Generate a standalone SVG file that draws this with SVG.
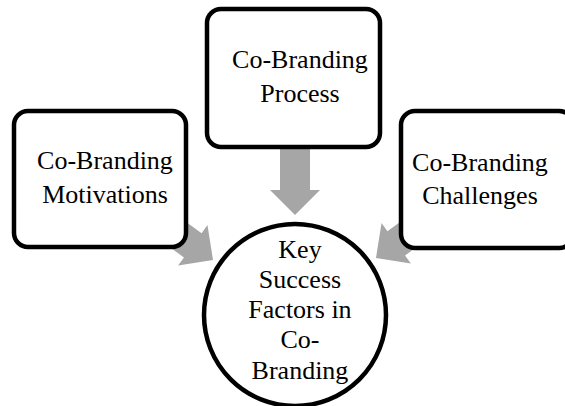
<svg xmlns="http://www.w3.org/2000/svg" width="565" height="406" viewBox="0 0 565 406">
<defs>
<style>
.box{fill:#fff;stroke:#000;stroke-width:4.5}
.arrow{fill:#a6a6a6}
text{font-family:"Liberation Serif","Times New Roman",serif;font-size:26px;fill:#000;text-anchor:middle}
</style>
<path id="arr" d="M-70,-15 L-25,-15 L-25,-25 L0,0 L-25,25 L-25,15 L-70,15 Z"/>
</defs>
<rect width="565" height="406" fill="#fff"/>
<g id="connectors">
<use href="#arr" class="arrow" transform="translate(295,215) rotate(90)"/>
<use href="#arr" class="arrow" transform="translate(213,260) rotate(36)"/>
<use href="#arr" class="arrow" transform="translate(376,258) rotate(144)"/>
</g>
<g id="process">
<rect class="box" x="207" y="9" width="173" height="138" rx="14"/>
<text x="300" y="68">Co-Branding</text>
<text x="300" y="102">Process</text>
</g>
<g id="motivations">
<rect class="box" x="14" y="111" width="172" height="136" rx="14"/>
<text x="105" y="169">Co-Branding</text>
<text x="105" y="203">Motivations</text>
</g>
<g id="challenges">
<rect class="box" x="401" y="111" width="172" height="137" rx="14"/>
<text x="480" y="171">Co-Branding</text>
<text x="480" y="204">Challenges</text>
</g>
<g id="key-success">
<circle cx="295" cy="315" r="91" fill="#fff" stroke="#000" stroke-width="4.5"/>
<text x="300" y="258">Key</text>
<text x="300" y="288">Success</text>
<text x="300" y="318">Factors in</text>
<text x="300" y="348">Co-</text>
<text x="300" y="379">Branding</text>
</g>
</svg>
